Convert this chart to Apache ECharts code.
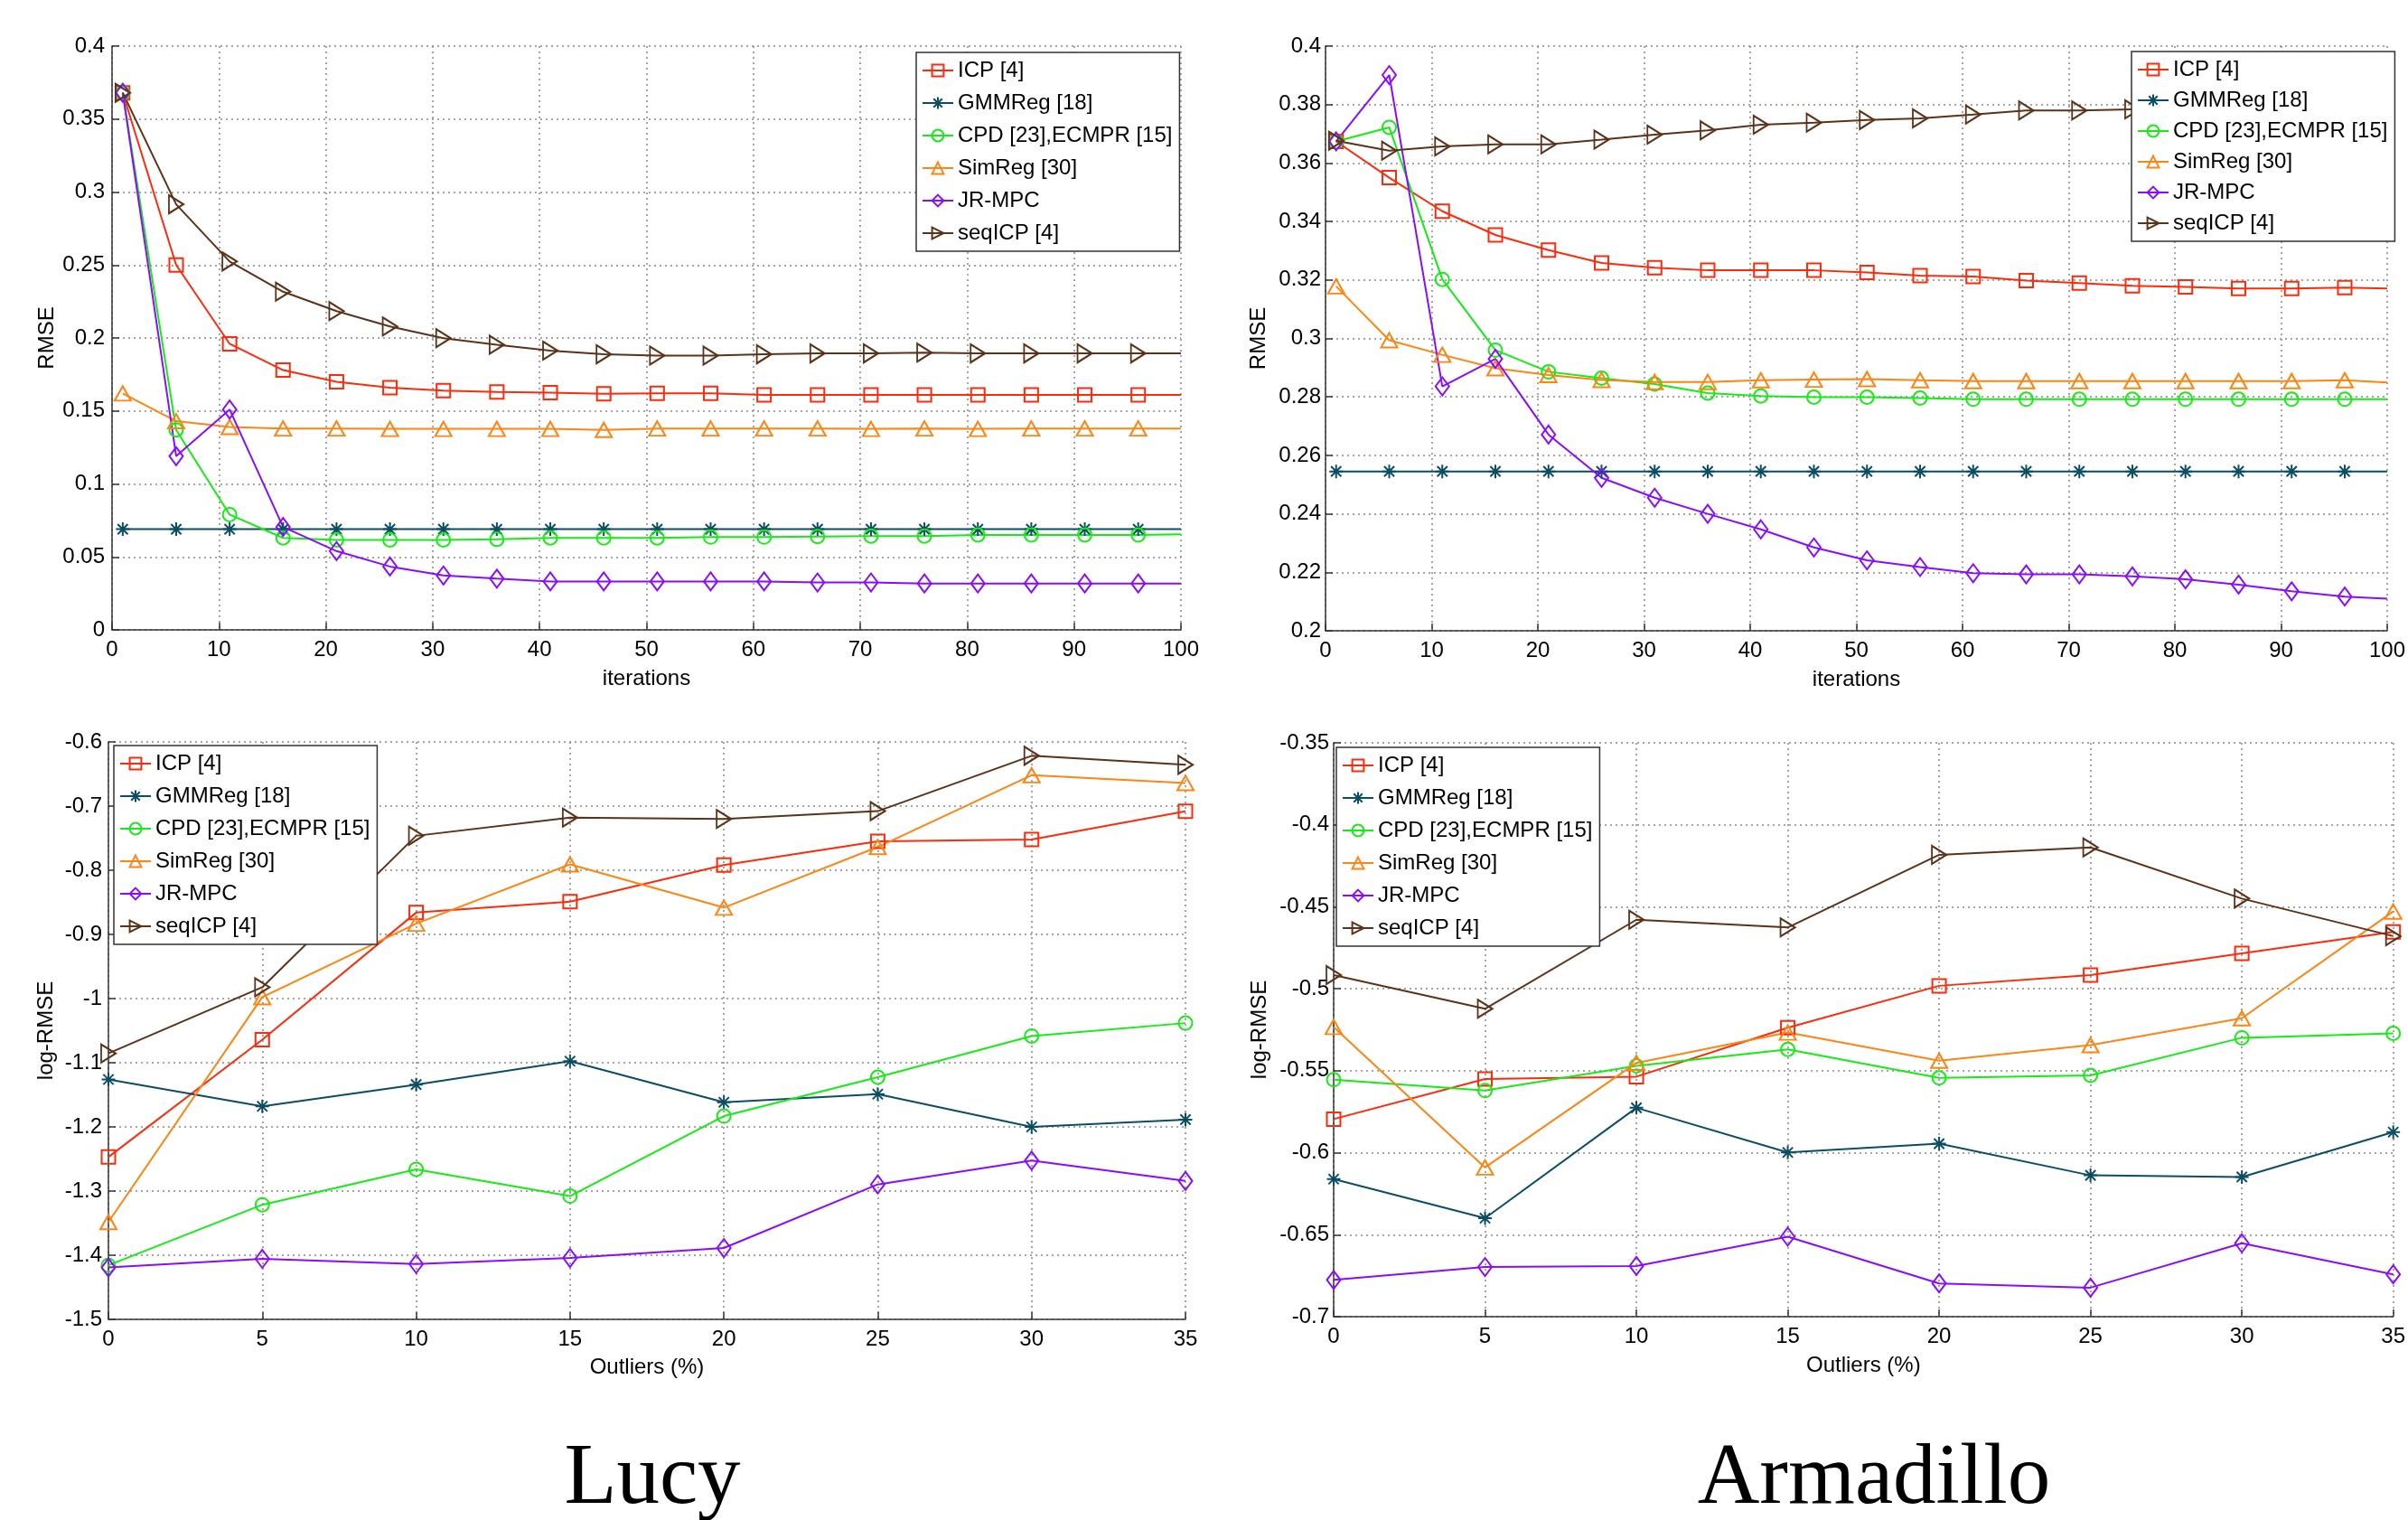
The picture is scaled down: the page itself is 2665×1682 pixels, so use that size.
<!DOCTYPE html>
<html>
<head>
<meta charset="utf-8">
<script src="https://cdn.jsdelivr.net/npm/echarts@6/dist/echarts.min.js"></script>
<style>
html,body{margin:0;padding:0;background:#fff;}
#c{width:2665px;height:1682px;}
</style>
</head>
<body>
<div id="c"></div>
<script>
// ---------- data ----------
const seriesNames = ['ICP [4]', 'GMMReg [18]', 'CPD [23],ECMPR [15]', 'SimReg [30]', 'JR-MPC', 'seqICP [4]'];
const panelTitles = ['Lucy', 'Armadillo'];

const iterX = [1, 6, 11, 16, 21, 26, 31, 36, 41, 46, 51, 56, 61, 66, 71, 76, 81, 86, 91, 96, 100];
const outlierX = [0, 5, 10, 15, 20, 25, 30, 35];

// Lucy, RMSE vs iterations
const lucyIterICP    = [0.368, 0.250, 0.196, 0.178, 0.170, 0.166, 0.164, 0.163, 0.1625, 0.1617, 0.162, 0.162, 0.161, 0.161, 0.161, 0.161, 0.161, 0.161, 0.161, 0.161, 0.161];
const lucyIterGMM    = [0.069, 0.069, 0.069, 0.069, 0.069, 0.069, 0.069, 0.069, 0.069, 0.069, 0.069, 0.069, 0.069, 0.069, 0.069, 0.069, 0.069, 0.069, 0.069, 0.069, 0.069];
const lucyIterCPD    = [0.368, 0.137, 0.079, 0.063, 0.0616, 0.0616, 0.0616, 0.062, 0.063, 0.063, 0.063, 0.0636, 0.0636, 0.064, 0.0643, 0.0643, 0.065, 0.065, 0.065, 0.065, 0.0655];
const lucyIterSim    = [0.162, 0.143, 0.139, 0.138, 0.138, 0.1377, 0.1377, 0.1377, 0.1377, 0.137, 0.138, 0.138, 0.138, 0.138, 0.1377, 0.138, 0.1377, 0.138, 0.138, 0.138, 0.138];
const lucyIterJR     = [0.368, 0.119, 0.151, 0.0705, 0.054, 0.0434, 0.0373, 0.0351, 0.0332, 0.0332, 0.0332, 0.0332, 0.0332, 0.0325, 0.0325, 0.0318, 0.0318, 0.0318, 0.0318, 0.0318, 0.0318];
const lucyIterSeq    = [0.368, 0.2916, 0.2524, 0.2317, 0.2184, 0.2079, 0.1999, 0.1954, 0.1913, 0.1888, 0.188, 0.188, 0.1888, 0.1894, 0.1894, 0.19, 0.1894, 0.1894, 0.1894, 0.1894, 0.1894];

// Armadillo, RMSE vs iterations
const armaIterICP    = [0.3674, 0.355, 0.3435, 0.3354, 0.3302, 0.3258, 0.3242, 0.3233, 0.3233, 0.3233, 0.3226, 0.3215, 0.3212, 0.3198, 0.3189, 0.318, 0.3176, 0.3171, 0.3171, 0.3174, 0.3171];
const armaIterGMM    = [0.2545, 0.2545, 0.2545, 0.2545, 0.2545, 0.2545, 0.2545, 0.2545, 0.2545, 0.2545, 0.2545, 0.2545, 0.2545, 0.2545, 0.2545, 0.2545, 0.2545, 0.2545, 0.2545, 0.2545, 0.2545];
const armaIterCPD    = [0.3674, 0.3722, 0.3202, 0.296, 0.2886, 0.2864, 0.2844, 0.2813, 0.2803, 0.2799, 0.2799, 0.2796, 0.2792, 0.2792, 0.2792, 0.2792, 0.2792, 0.2792, 0.2792, 0.2792, 0.2792];
const armaIterSim    = [0.3178, 0.2994, 0.2944, 0.2898, 0.2875, 0.2858, 0.2851, 0.2851, 0.2857, 0.2859, 0.2861, 0.2857, 0.2854, 0.2854, 0.2854, 0.2854, 0.2854, 0.2854, 0.2854, 0.2857, 0.2849];
const armaIterJR     = [0.3674, 0.3901, 0.2836, 0.293, 0.2671, 0.2523, 0.2455, 0.24, 0.2347, 0.2285, 0.2241, 0.2218, 0.2197, 0.2193, 0.2193, 0.2186, 0.2176, 0.2158, 0.2135, 0.2117, 0.211];
const armaIterSeq    = [0.3676, 0.3642, 0.3657, 0.3664, 0.3664, 0.368, 0.3697, 0.3712, 0.3731, 0.3738, 0.3747, 0.3753, 0.3766, 0.378, 0.378, 0.3784, 0.3786, 0.3788, 0.379, 0.379, 0.379];

// Lucy, log-RMSE vs outliers
const lucyOutICP     = [-1.247, -1.064, -0.866, -0.849, -0.792, -0.755, -0.752, -0.708];
const lucyOutGMM     = [-1.126, -1.168, -1.134, -1.0975, -1.1616, -1.149, -1.200, -1.1886];
const lucyOutCPD     = [-1.4157, -1.3214, -1.2661, -1.3079, -1.1832, -1.1225, -1.0584, -1.0382];
const lucyOutSim     = [-1.3483, -0.9978, -0.8832, -0.7908, -0.8582, -0.7638, -0.6519, -0.664];
const lucyOutJR      = [-1.4191, -1.4056, -1.4137, -1.4043, -1.3888, -1.2897, -1.2526, -1.2843];
const lucyOutSeq     = [-1.0854, -0.9823, -0.7463, -0.718, -0.720, -0.7079, -0.6216, -0.6357];

// Armadillo, log-RMSE vs outliers
const armaOutICP     = [-0.5795, -0.555, -0.5536, -0.5238, -0.4982, -0.4916, -0.4784, -0.4653];
const armaOutGMM     = [-0.6161, -0.6399, -0.5726, -0.5998, -0.5945, -0.6138, -0.6148, -0.5874];
const armaOutCPD     = [-0.5555, -0.5621, -0.547, -0.537, -0.5544, -0.5528, -0.5299, -0.5272];
const armaOutSim     = [-0.5233, -0.609, -0.5452, -0.5267, -0.5439, -0.5344, -0.518, -0.4529];
const armaOutJR      = [-0.6776, -0.6697, -0.6691, -0.6512, -0.6797, -0.6823, -0.6552, -0.6742];
const armaOutSeq     = [-0.4916, -0.5122, -0.4579, -0.4626, -0.4183, -0.4138, -0.445, -0.4679];

// ---------- styles ----------
const ASTERISK = 'path://M0,-10L0,10M-10,0L10,0M-7.5,-7.5L7.5,7.5M-7.5,7.5L7.5,-7.5';
const RTRI = 'path://M0,0L10,6L0,12Z';
const STY = {
  'ICP [4]':              {color: '#ff2a0a', symbol: 'rect',     size: 15},
  'GMMReg [18]':          {color: '#0b4e64', symbol: ASTERISK,   size: 15},
  'CPD [23],ECMPR [15]':  {color: '#14ec14', symbol: 'circle',   size: 15},
  'SimReg [30]':          {color: '#ff8412', symbol: 'triangle', size: [18, 16]},
  'JR-MPC':               {color: '#8a0cff', symbol: 'diamond',  size: [15, 20]},
  'seqICP [4]':           {color: '#5c3218', symbol: RTRI,       size: [16, 20]}
};
const FONT = 'Liberation Sans';

function mk(name, gi, xs, ys, noLastMarker) {
  const s = STY[name];
  const n = xs.length;
  return {
    type: 'line', name: name, xAxisIndex: gi, yAxisIndex: gi,
    data: xs.map((x, i) => (noLastMarker && i === n - 1) ? {value: [x, ys[i]], symbol: 'none'} : [x, ys[i]]),
    symbol: s.symbol,
    symbolSize: s.size,
    showAllSymbol: true,
    lineStyle: {color: s.color, width: 2},
    itemStyle: {color: 'rgba(255,255,255,0)', borderColor: s.color, borderWidth: 2},
    emphasis: {disabled: true},
    animation: false,
    z: 2
  };
}

const grids = [
  {left: 124, top: 51, width: 1183, height: 646},
  {left: 1467, top: 51, width: 1184, height: 647},
  {left: 120, top: 821, width: 1192, height: 639},
  {left: 1476, top: 822, width: 1180, height: 635}
];

const splitLine = {show: true, lineStyle: {color: '#888', width: 1.5, type: [2, 4]}};
const axisLine = {show: true, onZero: false, lineStyle: {color: '#333', width: 1.5}};
const axisTick = {show: true, inside: true, length: 8, lineStyle: {color: '#333', width: 1.5}};
const lab = {color: '#000', fontSize: 24, fontFamily: FONT};
const nameStyle = {color: '#000', fontSize: 24, fontFamily: FONT};

function xAx(gi, max, interval, name, gap) {
  return {type: 'value', gridIndex: gi, min: 0, max: max, interval: interval,
    name: name, nameLocation: 'middle', nameGap: gap, nameTextStyle: nameStyle,
    axisLine: axisLine, axisTick: axisTick, splitLine: splitLine,
    axisLabel: Object.assign({margin: 10}, lab)};
}
function yAx(gi, min, max, interval, name, gap, margin) {
  return {type: 'value', gridIndex: gi, min: min, max: max, interval: interval,
    name: name, nameLocation: 'middle', nameGap: gap, nameTextStyle: nameStyle,
    axisLine: axisLine, axisTick: axisTick, splitLine: splitLine,
    axisLabel: Object.assign({margin: margin}, lab)};
}

function legend(left, top, gap) {
  return {
    left: left, top: top, orient: 'vertical', align: 'left',
    data: seriesNames,
    backgroundColor: '#fff', borderColor: '#333', borderWidth: 1.5,
    padding: [8, 8, 8, 6], itemGap: gap, itemWidth: 34, itemHeight: 16, itemTextGap: 4,
    selectedMode: false,
    itemStyle: {borderWidth: 2},
    textStyle: {color: '#000', fontSize: 24, fontFamily: FONT, lineHeight: 24},
    z: 10
  };
}

const series = [];
const panels = [
  [0, iterX, [lucyIterICP, lucyIterGMM, lucyIterCPD, lucyIterSim, lucyIterJR, lucyIterSeq], true],
  [1, iterX, [armaIterICP, armaIterGMM, armaIterCPD, armaIterSim, armaIterJR, armaIterSeq], true],
  [2, outlierX, [lucyOutICP, lucyOutGMM, lucyOutCPD, lucyOutSim, lucyOutJR, lucyOutSeq], false],
  [3, outlierX, [armaOutICP, armaOutGMM, armaOutCPD, armaOutSim, armaOutJR, armaOutSeq], false]
];
panels.forEach(p => {
  seriesNames.forEach((n, k) => series.push(mk(n, p[0], p[1], p[2][k], p[3])));
});

const option = {
  backgroundColor: '#fff',
  animation: false,
  grid: grids,
  xAxis: [
    xAx(0, 100, 10, 'iterations', 42),
    xAx(1, 100, 10, 'iterations', 42),
    xAx(2, 35, 5, 'Outliers (%)', 41),
    xAx(3, 35, 5, 'Outliers (%)', 42)
  ],
  yAxis: [
    yAx(0, 0, 0.4, 0.05, 'RMSE', 60, 8),
    yAx(1, 0.2, 0.4, 0.02, 'RMSE', 62, 5),
    yAx(2, -1.5, -0.6, 0.1, 'log-RMSE', 57, 7),
    yAx(3, -0.7, -0.35, 0.05, 'log-RMSE', 70, 5)
  ],
  legend: [
    legend(1014, 58, 12),
    legend(2359, 57, 10),
    legend(126, 825, 12),
    legend(1479, 827, 12)
  ],
  graphic: [
    {type: 'text', x: 722, y: 1638, style: {text: panelTitles[0], fill: '#000', font: '95px "Liberation Serif"', textAlign: 'center', textVerticalAlign: 'middle'}},
    {type: 'text', x: 2074, y: 1638, style: {text: panelTitles[1], fill: '#000', font: '95px "Liberation Serif"', textAlign: 'center', textVerticalAlign: 'middle'}}
  ],
  series: series
};

const chart = echarts.init(document.getElementById('c'), null, {renderer: 'canvas'});
chart.setOption(option);
</script>
</body>
</html>
